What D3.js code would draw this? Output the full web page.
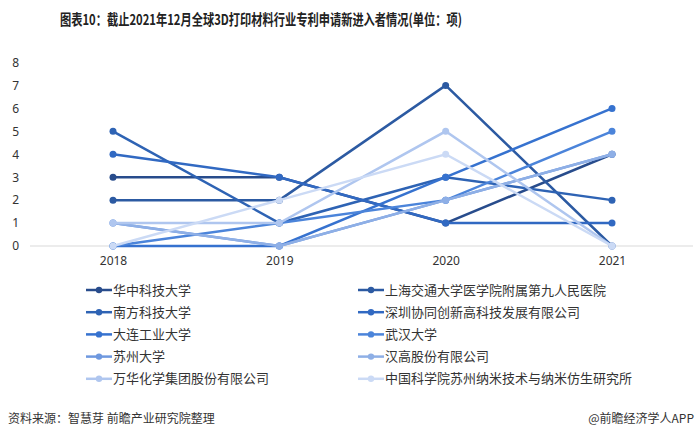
<!DOCTYPE html>
<html>
<head>
<meta charset="utf-8">
<script src="https://cdn.jsdelivr.net/npm/d3@7"></script>
<style>
  body { margin: 0; background: #fff; }
  svg { display: block; font-family: "Noto Sans CJK SC", "Noto Sans", sans-serif; }
</style>
</head>
<body>
<svg id="chart" width="700" height="437"></svg>
<script>
// Data
var years = ["2018", "2019", "2020", "2021"];
var yTicks = [0, 1, 2, 3, 4, 5, 6, 7, 8];
var names = [
  "华中科技大学", "上海交通大学医学院附属第九人民医院",
  "南方科技大学", "深圳协同创新高科技发展有限公司",
  "大连工业大学", "武汉大学",
  "苏州大学", "汉高股份有限公司",
  "万华化学集团股份有限公司", "中国科学院苏州纳米技术与纳米仿生研究所"
];
var huazhong = [3, 3, 1, 4];
var shanghai = [2, 2, 7, 0];
var nanfang  = [5, 1, 3, 2];
var shenzhen = [4, 3, 1, 1];
var dalian   = [0, 0, 3, 6];
var wuhan    = [0, 1, 2, 5];
var suzhou   = [1, 0, 2, 4];
var hanggao  = [1, 0, 2, 4];
var wanhua   = [1, 1, 5, 0];
var zhongke  = [0, 2, 4, 0];
var values = [huazhong, shanghai, nanfang, shenzhen, dalian, wuhan, suzhou, hanggao, wanhua, zhongke];
var colors = ["#284c8c", "#2c5aa2", "#2e63b4", "#3169c2", "#3672cf",
              "#4b84da", "#6e98df", "#8eafe6", "#afc6ef", "#cbdaf5"];

var svg = d3.select("#chart");

// Title
svg.append("text")
  .attr("x", 60).attr("y", 25)
  .attr("font-size", 15).attr("font-weight", "bold").attr("fill", "#222")
  .attr("textLength", 402).attr("lengthAdjust", "spacingAndGlyphs")
  .text("图表10：截止2021年12月全球3D打印材料行业专利申请新进入者情况(单位：项)");

// Scales
var x = d3.scalePoint().domain(years).range([113, 612]);
var y = d3.scaleLinear().domain([0, 8]).range([246, 62.5]);

// Baseline
svg.append("line")
  .attr("x1", 30).attr("x2", 693)
  .attr("y1", y(0)).attr("y2", y(0))
  .attr("stroke", "#d9d9d9").attr("stroke-width", 1);

// Y axis labels
var yAxis = svg.append("g")
  .attr("transform", "translate(19,0)")
  .call(d3.axisLeft(y).tickValues(yTicks).tickSize(0).tickPadding(0));
yAxis.select(".domain").remove();
yAxis.selectAll("text")
  .attr("font-size", 12).attr("fill", "#333")
  .attr("font-family", "'Noto Sans', sans-serif");

// X axis labels
var xAxis = svg.append("g")
  .attr("transform", "translate(0," + 250 + ")")
  .call(d3.axisBottom(x).tickSize(0).tickPadding(6));
xAxis.select(".domain").remove();
xAxis.selectAll("text")
  .attr("font-size", 12).attr("fill", "#333")
  .attr("font-family", "'Noto Sans', sans-serif");

// Lines and markers
var line = d3.line()
  .x(function(d, i) { return x(years[i]); })
  .y(function(d) { return y(d); });

var series = svg.append("g").selectAll("g").data(values).enter()
  .append("g");

series.append("path")
  .attr("d", line)
  .attr("fill", "none")
  .attr("stroke", function(d, i) { return colors[i]; })
  .attr("stroke-width", 2.5);

series.each(function(d, i) {
  d3.select(this).selectAll("circle").data(d).enter()
    .append("circle")
    .attr("cx", function(v, j) { return x(years[j]); })
    .attr("cy", function(v) { return y(v); })
    .attr("r", 3.5)
    .attr("fill", colors[i]);
});

// Legend
var legend = svg.append("g").selectAll("g").data(names).enter()
  .append("g")
  .attr("transform", function(d, i) {
    var col = i % 2;
    var row = Math.floor(i / 2);
    return "translate(" + (col ? 358 : 86) + "," + (290 + row * 22.2) + ")";
  });

legend.append("line")
  .attr("x1", 0).attr("x2", 26)
  .attr("stroke", function(d, i) { return colors[i]; })
  .attr("stroke-width", 2.5);

legend.append("circle")
  .attr("cx", 13).attr("r", 3.2)
  .attr("fill", function(d, i) { return colors[i]; });

legend.append("text")
  .attr("x", 27).attr("y", 4.5)
  .attr("font-size", 13).attr("fill", "#333")
  .text(function(d) { return d; });

// Footer
svg.append("text")
  .attr("x", 8).attr("y", 423)
  .attr("font-size", 12).attr("fill", "#333")
  .text("资料来源：智慧芽 前瞻产业研究院整理");

svg.append("text")
  .attr("x", 694).attr("y", 423)
  .attr("text-anchor", "end")
  .attr("font-size", 12).attr("fill", "#333")
  .text("@前瞻经济学人APP");
</script>
</body>
</html>
